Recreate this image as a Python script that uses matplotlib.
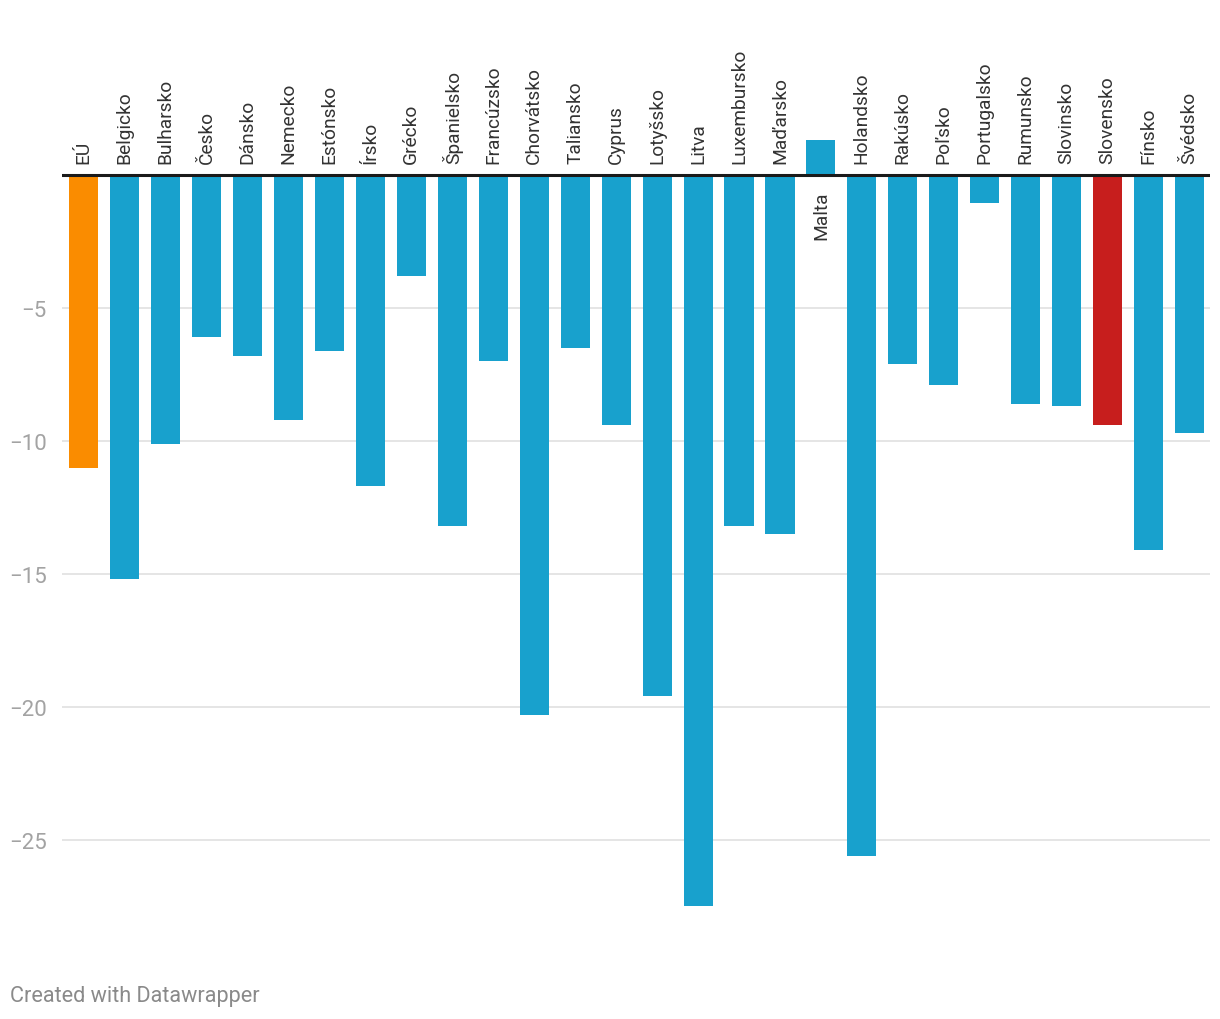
import matplotlib
matplotlib.use("Agg")
import matplotlib.pyplot as plt
from matplotlib.ticker import FixedLocator

plt.rcParams['font.family'] = ['Roboto', 'DejaVu Sans']

countries = ["EÚ", "Belgicko", "Bulharsko", "Česko", "Dánsko", "Nemecko", "Estónsko",
             "Írsko", "Grécko", "Španielsko", "Francúzsko", "Chorvátsko", "Taliansko",
             "Cyprus", "Lotyšsko", "Litva", "Luxembursko", "Maďarsko", "Malta",
             "Holandsko", "Rakúsko", "Poľsko", "Portugalsko", "Rumunsko", "Slovinsko",
             "Slovensko", "Fínsko", "Švédsko"]
values = [-11.0, -15.2, -10.1, -6.1, -6.8, -9.2, -6.6, -11.7, -3.8, -13.2, -7.0, -20.3,
          -6.5, -9.4, -19.6, -27.5, -13.2, -13.5, 1.3, -25.6, -7.1, -7.9, -1.05, -8.6,
          -8.7, -9.4, -14.1, -9.7]
yticks = [-5, -10, -15, -20, -25]

BLUE = "#18a1cd"
ORANGE = "#fa8c00"
RED = "#c71e1d"
colors = []
for c in countries:
    if c == "EÚ":
        colors.append(ORANGE)
    elif c == "Slovensko":
        colors.append(RED)
    else:
        colors.append(BLUE)

fig = plt.figure(figsize=(12.2, 10.2), dpi=100)
ax = fig.add_axes([62/1220, 1 - 934/1020, (1210-62)/1220, (934-43)/1020])

x = list(range(len(countries)))
ax.bar(x, values, width=0.71, color=colors, zorder=2)
ax.set_xlim(-0.53, len(countries) - 0.5)
ax.set_ylim(-28.5, 5.0)

for yv in yticks:
    ax.axhline(yv, color="#e3e3e3", lw=1.3, zorder=1)
ax.axhline(0, color="#1a1a1a", lw=2.2, zorder=3)

ax.yaxis.set_major_locator(FixedLocator(yticks))
ax.set_yticklabels([f"\u2212{abs(v)}" for v in yticks])
ax.tick_params(axis='y', length=0, pad=11, labelsize=16, labelcolor="#a3a3a3")
ax.set_xticks([])
for s in ax.spines.values():
    s.set_visible(False)

for xi, (c, v) in enumerate(zip(countries, values)):
    if v < 0:
        ax.annotate(c, (xi, 0), xytext=(0, 12), textcoords='offset pixels',
                    rotation=90, ha='center', va='bottom', fontsize=13.8,
                    color="#333333", zorder=4)
    else:
        ax.annotate(c, (xi, 0), xytext=(0, -16), textcoords='offset pixels',
                    rotation=90, ha='center', va='top', fontsize=13.8,
                    color="#333333", zorder=4)

fig.text(10/1220, 1 - 997/1020, "Created with Datawrapper", fontsize=15.6,
         color="#8a8a8a", ha='left', va='center')

fig.savefig("out.png", dpi=100)
